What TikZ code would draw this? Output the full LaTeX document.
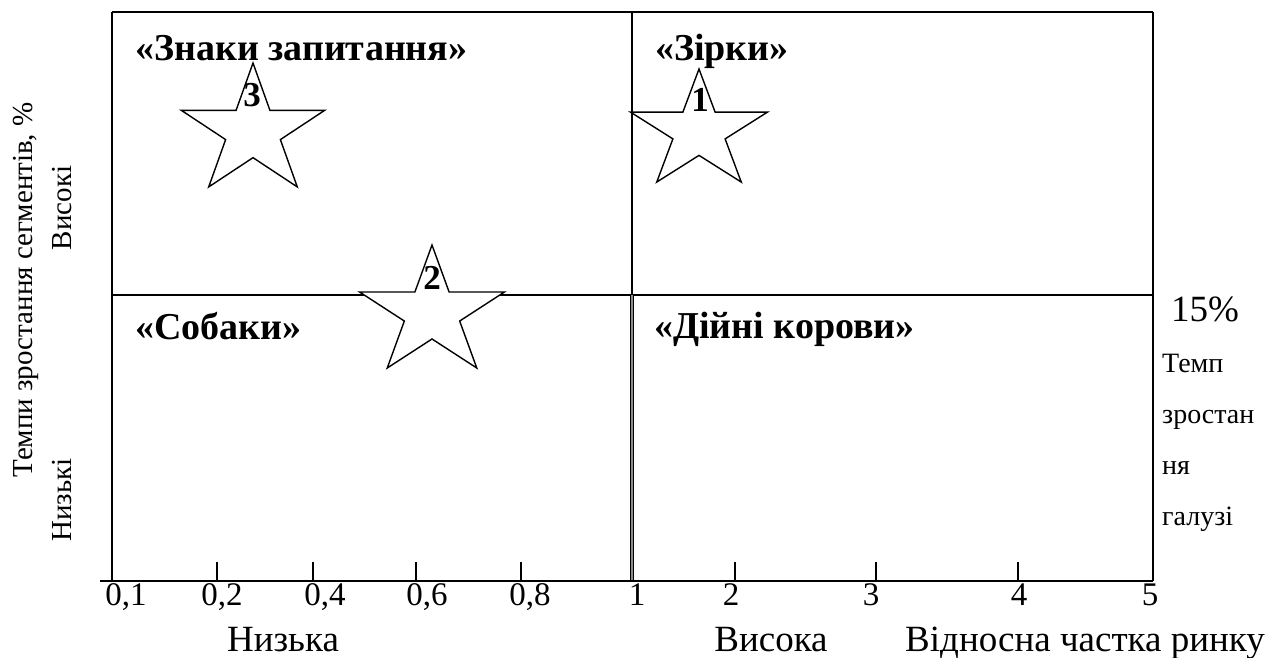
\documentclass[tikz,border=0pt]{standalone}
\usepackage{fontspec}
\setmainfont{Liberation Serif}
\begin{document}
\begin{tikzpicture}[x=1pt,y=-1pt,
  frame/.style={line width=1.6pt, black},
  tickline/.style={line width=1.2pt, black},
  starline/.style={line width=1.4pt, black, fill=white, line join=miter},
  reg/.style={inner sep=0pt, font=\fontsize{29}{34}\selectfont},
  tick/.style={inner sep=0pt, anchor=base, font=\fontsize{33}{38}\selectfont},
  big/.style={inner sep=0pt, font=\fontsize{37}{42}\selectfont},
  side/.style={inner sep=0pt, anchor=base west, font=\fontsize{28}{32}\selectfont},
  quad/.style={inner sep=0pt, anchor=base west, font=\fontsize{38}{42}\selectfont\bfseries},
  num/.style={inner sep=0pt, font=\fontsize{35}{38}\selectfont\bfseries},
  pics/bstar/.style={code={
    \draw[starline] (-90:#1)
      \foreach \a/\f in {-54/0.382,-18/1,18/0.382,54/1,90/0.382,126/1,162/0.382,198/1,234/0.382}{ -- (\a:\f*#1) } -- cycle;}}
]
\useasboundingbox (0,0) rectangle (1266,657);
% frame coordinates
\coordinate (TL) at (112,12);
\coordinate (TM) at (632,12);
\coordinate (TR) at (1153,12);
\coordinate (ML) at (112,295);
\coordinate (MM) at (632,295);
\coordinate (MR) at (1153,295);
\coordinate (BL) at (112,581);
\coordinate (BM) at (632,581);
\coordinate (BR) at (1153,581);
\coordinate (AL) at (100,581);
% frame
\draw[frame] (TL) -- (TR);
\draw[frame] (TL) -- (BL);
\draw[frame] (TR) -- (BR);
\draw[frame] (ML) -- (MR);
\draw[line width=2.2pt] (TM) -- (MM);
\draw[double=black!45, double distance=1.1pt, line width=1.3pt, black] (MM) -- (BM);
\draw[frame] (AL) -- (BR);
% ticks
\foreach \n/\x in {t2/217,t4/313,t6/416,t8/521,u2/735,u3/876,u4/1018}{
  \coordinate (\n a) at (\x,562);
  \coordinate (\n b) at (\x,581);
  \draw[tickline] (\n a) -- (\n b);
}
% tick labels
\foreach \n/\x/\t in {l1/126/{0,1},l2/222/{0,2},l4/325/{0,4},l6/427/{0,6},l8/530/{0,8},l10/637/1,m2/731/2,m3/871/3,m4/1019/4,m5/1150/5}{
  \node[tick] (\n) at (\x,605) {\t};
}
% axis labels
\node[big, anchor=base] (low) at (283,651) {Низька};
\node[big, anchor=base] (high) at (771,651) {Висока};
\node[big, anchor=base west] (share) at (905,651) {Відносна частка ринку};
% left labels
\node[reg, rotate=90] (ylab) at (26,290) {Темпи зростання сегментів, \%};
\node[reg, rotate=90] (yhi) at (62,208) {Високі};
\node[reg, rotate=90] (ylo) at (62,500) {Низькі};
% right labels
\node[big, anchor=base west] (p15) at (1171,321) {15\%};
\node[side] (r1) at (1162,372) {Темп};
\node[side] (r2) at (1162,423) {зростан};
\node[side] (r3) at (1162,474) {ня};
\node[side] (r4) at (1162,525) {галузі};
% quadrant labels
\node[quad] (q1) at (135,60) {«Знаки запитання»};
\node[quad] (q2) at (655,60) {«Зірки»};
\node[quad] (q3) at (135,339) {«Собаки»};
\node[quad] (q4) at (654,338) {«Дійні корови»};
% stars
\pic[xscale=1.1] (s3) at (253,131.5) {bstar=68.5};
\pic[xscale=1.15] (s1) at (699,131.5) {bstar=62.5};
\pic[xscale=1.12] (s2) at (432,313) {bstar=68};
\node[num] (n3) at (252,95) {3};
\node[num] (n1) at (700,100) {1};
\node[num] (n2) at (432,278) {2};
\end{tikzpicture}
\end{document}
